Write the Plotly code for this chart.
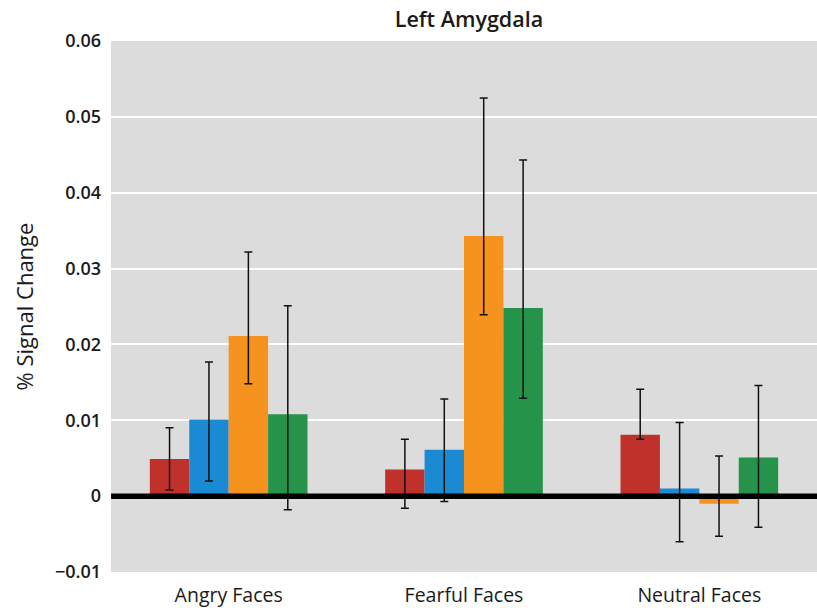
import plotly.graph_objects as go

categories = ["Angry Faces", "Fearful Faces", "Neutral Faces"]

# Mean % signal change per group and condition
group_a = [0.0049, 0.0035, 0.0081]
group_b = [0.0101, 0.0061, 0.0010]
group_c = [0.0211, 0.0343, -0.0010]
group_d = [0.0108, 0.0248, 0.0051]

# Error bar extents above / below each mean
err_a_plus = [0.0041, 0.0040, 0.0060]
err_a_minus = [0.0041, 0.0051, 0.0006]
err_b_plus = [0.0076, 0.0067, 0.0087]
err_b_minus = [0.0081, 0.0068, 0.0070]
err_c_plus = [0.0111, 0.0182, 0.0063]
err_c_minus = [0.0063, 0.0104, 0.0043]
err_d_plus = [0.0143, 0.0195, 0.0095]
err_d_minus = [0.0126, 0.0119, 0.0092]

colors = ["#c1312b", "#1a8bd3", "#f6931f", "#25944a"]

y_ticks = [-0.01, 0, 0.01, 0.02, 0.03, 0.04, 0.05, 0.06]
y_tick_text = ["\u22120.01", "0", "0.01", "0.02", "0.03", "0.04", "0.05", "0.06"]

series = [
    (group_a, err_a_plus, err_a_minus),
    (group_b, err_b_plus, err_b_minus),
    (group_c, err_c_plus, err_c_minus),
    (group_d, err_d_plus, err_d_minus),
]

fig = go.Figure()
for (vals, ep, em), col in zip(series, colors):
    fig.add_trace(go.Bar(
        x=categories,
        y=vals,
        marker=dict(color=col, line=dict(width=0)),
        error_y=dict(type="data", symmetric=False, array=ep, arrayminus=em,
                     color="#111111", thickness=1.5, width=4),
        showlegend=False,
    ))

# Heavy baseline at zero
fig.add_shape(type="line", xref="paper", yref="y", x0=0, x1=1, y0=0, y1=0,
              line=dict(color="black", width=5.5), layer="above")

font_family = "Open Sans"
fig.update_layout(
    width=817, height=608,
    margin=dict(l=111, r=0, t=41, b=36),
    paper_bgcolor="white",
    plot_bgcolor="#dcdcdc",
    barmode="group",
    bargap=0.33,
    bargroupgap=0,
    title=dict(text="Left Amygdala", x=0.574, xanchor="center", y=0.968, yanchor="middle",
               font=dict(family=font_family, size=21.5, color="#1a1a1a", weight=600)),
    xaxis=dict(showgrid=False, zeroline=False, showline=False, ticks="",
               ticklabelstandoff=9,
               tickfont=dict(family=font_family, size=19.5, color="#1a1a1a")),
    yaxis=dict(range=[-0.01, 0.06], tickvals=y_ticks, ticktext=y_tick_text,
               showgrid=True, gridcolor="white", gridwidth=1.5,
               zeroline=False, showline=False, ticks="",
               ticklabelstandoff=9,
               tickfont=dict(family=font_family, size=18, color="#1a1a1a", weight=600),
               title=dict(text="% Signal Change", standoff=15,
                          font=dict(family=font_family, size=22, color="#1a1a1a", weight=500))),
)

fig.write_html("out.html")
